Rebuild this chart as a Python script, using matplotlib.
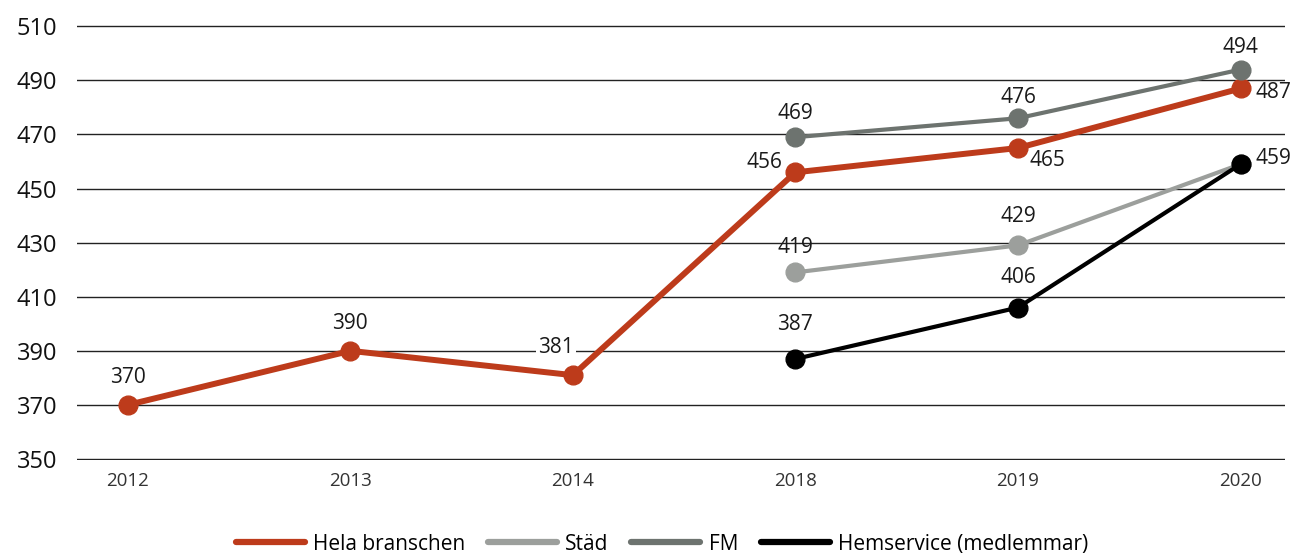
import matplotlib
matplotlib.use("Agg")
import matplotlib.pyplot as plt
import numpy as np

plt.rcParams['font.family'] = ['Open Sans', 'DejaVu Sans']

years = ["2012", "2013", "2014", "2018", "2019", "2020"]
hela = [370, 390, 381, 456, 465, 487]
stad_years = ["2018", "2019", "2020"]
stad = [419, 429, 459]
fm_years = ["2018", "2019", "2020"]
fm = [469, 476, 494]
hem_years = ["2018", "2019", "2020"]
hem = [387, 406, 459]

RED = "#BD3B1B"
LGREY = "#9C9F9C"
DGREY = "#6D736F"
BLACK = "#000000"

fig = plt.figure(figsize=(12.98, 5.54), dpi=100)
ax = fig.add_axes([0.059, 0.170, 0.931, 0.784])

xpos = {y: i for i, y in enumerate(years)}

def xs(lbl):
    return [xpos[l] for l in lbl]

series = [
    ("Hela branschen", years, hela, RED, 4.3),
    ("Städ", stad_years, stad, LGREY, 3.0),
    ("FM", fm_years, fm, DGREY, 3.0),
    ("Hemservice (medlemmar)", hem_years, hem, BLACK, 3.0),
]
for name, yl, vals, col, lw in series:
    ax.plot(xs(yl), vals, color=col, lw=lw, marker='o', ms=13.5,
            solid_capstyle='round', label=name, zorder=3, clip_on=False)

lab_fs = 15
def lab(x, v, dx, dy, ha='center', va='center', bg=False):
    t = ax.annotate(str(v), (x, v), xytext=(dx, dy), textcoords='offset points',
                    ha=ha, va=va, fontsize=lab_fs, color='#1a1a1a', zorder=5,
                    annotation_clip=False)
    if bg:
        t.set_bbox(dict(facecolor='white', edgecolor='none', pad=1.5))

lab(xpos["2012"], hela[0], 0, 20)
lab(xpos["2013"], hela[1], 0, 20)
lab(xpos["2014"], hela[2], -12, 20, bg=True)
lab(xpos["2018"], hela[3], -22, 7)
lab(xpos["2019"], hela[4], 21, -9)
lab(xpos["2020"], hela[5], 11, -3, ha='left')
lab(xpos["2018"], stad[0], 0, 18)
lab(xpos["2019"], stad[1], 0, 21)
lab(xpos["2018"], fm[0], 0, 17)
lab(xpos["2019"], fm[1], 0, 15)
lab(xpos["2020"], fm[2], 0, 16)
lab(xpos["2018"], hem[0], 0, 25)
lab(xpos["2019"], hem[1], 0, 22)
lab(xpos["2020"], hem[2], 11, 4, ha='left')

ax.set_ylim(349.7, 510.3)
ax.set_yticks(np.arange(350, 511, 20))
ax.set_xlim(-0.23, 5.2)
ax.set_xticks(range(len(years)))
ax.set_xticklabels(years)
ax.yaxis.grid(True, color='#222222', lw=1.0, zorder=0)
ax.set_axisbelow(True)
for s in ax.spines.values():
    s.set_visible(False)
ax.tick_params(axis='y', length=0, labelsize=17, pad=14, labelcolor='#111111')
ax.tick_params(axis='x', length=0, labelsize=13.5, pad=9, labelcolor='#333333')

leg = fig.legend(loc='lower center', bbox_to_anchor=(0.51, -0.035), ncol=4,
                 frameon=False, fontsize=15, handlelength=3.3, handletextpad=0.4,
                 columnspacing=1.1)
for h in leg.legend_handles:
    h.set_marker('')
    h.set_linewidth(4.5)

fig.savefig("out.png", dpi=100)
